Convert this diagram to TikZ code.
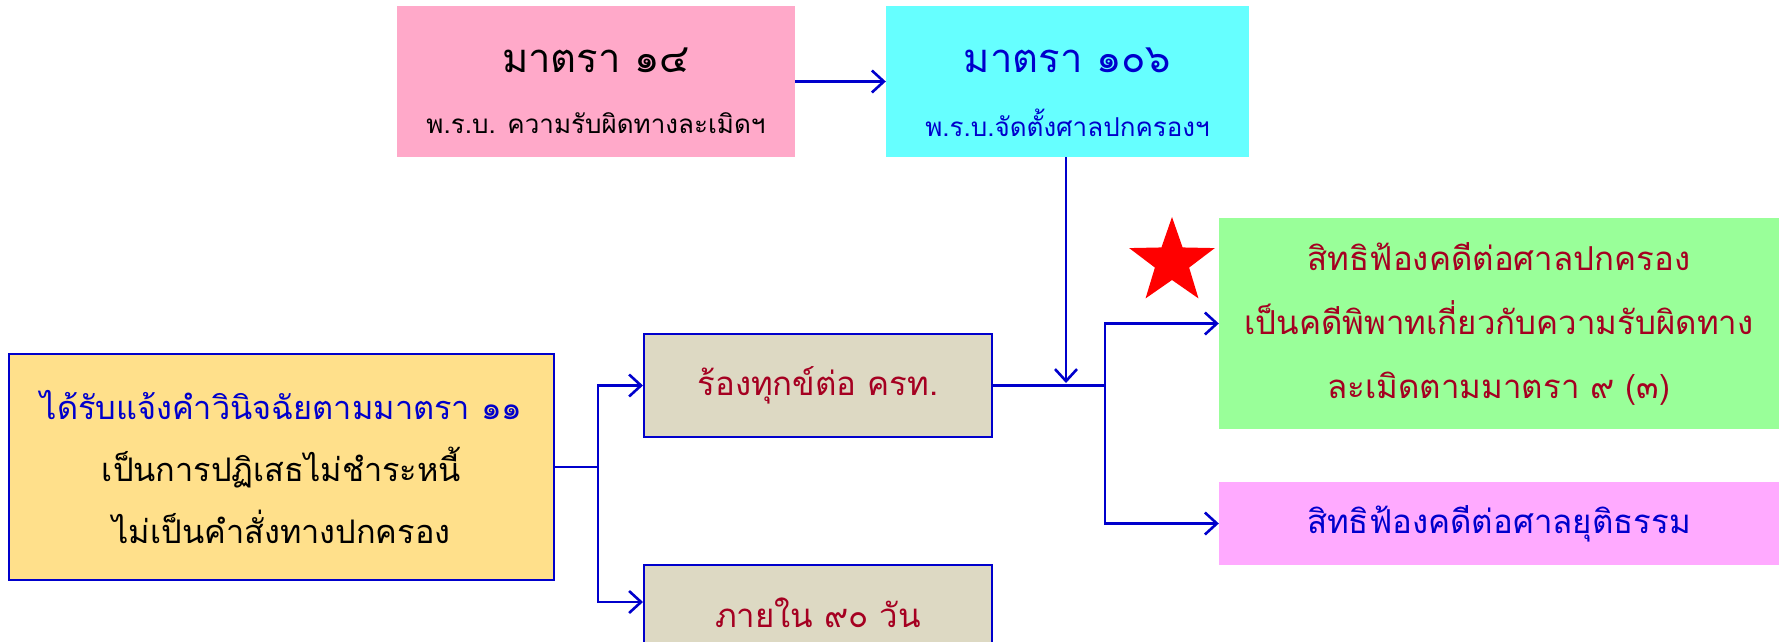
\documentclass[tikz,border=0pt]{standalone}
\usepackage{fontspec}
\setmainfont[Script=Thai]{Loma}
\usetikzlibrary{arrows.meta,shapes.geometric}
\definecolor{pinkA}{HTML}{FFA9C9}
\definecolor{cyanA}{HTML}{66FFFF}
\definecolor{yellowA}{HTML}{FFE08B}
\definecolor{beigeA}{HTML}{DDD9C3}
\definecolor{greenA}{HTML}{99FF99}
\definecolor{pinkB}{HTML}{FFAAFF}
\definecolor{lineblue}{HTML}{0000CC}
\definecolor{txtblue}{HTML}{0000CC}
\definecolor{txtred}{HTML}{A50021}
\tikzset{
  box/.style={rectangle, inner sep=0pt, align=center},
  bbox/.style={box, draw=lineblue, line width=2pt},
  conn/.style={draw=lineblue, line width=2.6pt},
  arr/.style={conn, -{Straight Barb[length=12pt,width=22pt,line width=2.6pt]}},
  big/.style={font=\fontsize{40}{46}\selectfont},
  sub/.style={font=\fontsize{26}{30}\selectfont},
  mid/.style={font=\fontsize{32.5}{62}\selectfont},
  midb/.style={font=\fontsize{33}{64}\selectfont},
}
\begin{document}
\begin{tikzpicture}[x=1pt,y=-1pt]
\useasboundingbox (0,0) rectangle (1787,641);
% top boxes
\node[box, fill=pinkA, minimum width=398pt, minimum height=151pt] (pink) at (596,81.5) {};
\node[big] (pinkT1) at (596,60) {มาตรา ๑๔};
\node[sub] (pinkT2) at (596,123) {พ.ร.บ. ความรับผิดทางละเมิดฯ};
\node[box, fill=cyanA, minimum width=363pt, minimum height=151pt] (cyan) at (1067.5,81.5) {};
\node[big, text=txtblue] (cyanT1) at (1067.5,60) {มาตรา ๑๐๖};
\node[sub, text=txtblue] (cyanT2) at (1067.5,123) {พ.ร.บ.จัดตั้งศาลปกครองฯ};
% left box
\node[bbox, fill=yellowA, minimum width=545pt, minimum height=226pt, mid] (yellow) at (281.5,467)
  {\textcolor{txtblue}{ได้รับแจ้งคำวินิจฉัยตามมาตรา ๑๑}\\เป็นการปฏิเสธไม่ชำระหนี้\\ไม่เป็นคำสั่งทางปกครอง};
% middle boxes
\node[bbox, fill=beigeA, minimum width=348pt, minimum height=103pt, midb, text=txtred] (rong) at (818,385.5) {ร้องทุกข์ต่อ ครท.};
\node[bbox, fill=beigeA, minimum width=348pt, minimum height=95pt, midb, text=txtred] (phai) at (818,612.5) {ภายใน ๙๐ วัน};
% right boxes
\node[box, fill=greenA, minimum width=560pt, minimum height=211pt, midb, text=txtred] (green) at (1499,323.5)
  {สิทธิฟ้องคดีต่อศาลปกครอง\\เป็นคดีพิพาทเกี่ยวกับความรับผิดทาง\\ละเมิดตามมาตรา ๙ (๓)};
\node[box, fill=pinkB, minimum width=560pt, minimum height=83pt, midb, text=txtblue] (pinkb) at (1499,523.5) {สิทธิฟ้องคดีต่อศาลยุติธรรม};
% star
\node[star, star points=5, star point ratio=2.5, fill=red, inner sep=0pt, minimum size=90pt] (star) at (1172,262) {};
% connectors
\draw[arr] (pink.east) -- (cyan.west);
\coordinate (jL) at (598,467);
\coordinate (jR) at (1105,385.5);
\draw[conn] (yellow.east) -- (jL);
\draw[arr] (jL) |- (rong.west);
\draw[arr] (jL) -- (jL |- 0,602) -- (phai.west |- 0,602);
\draw[conn] (rong.east) -- (jR);
\draw[arr] (cyan.south -| 1066,0) -- (1066,383);
\draw[arr] (jR) |- (green.west);
\draw[arr] (jR) |- (pinkb.west);
\end{tikzpicture}
\end{document}
